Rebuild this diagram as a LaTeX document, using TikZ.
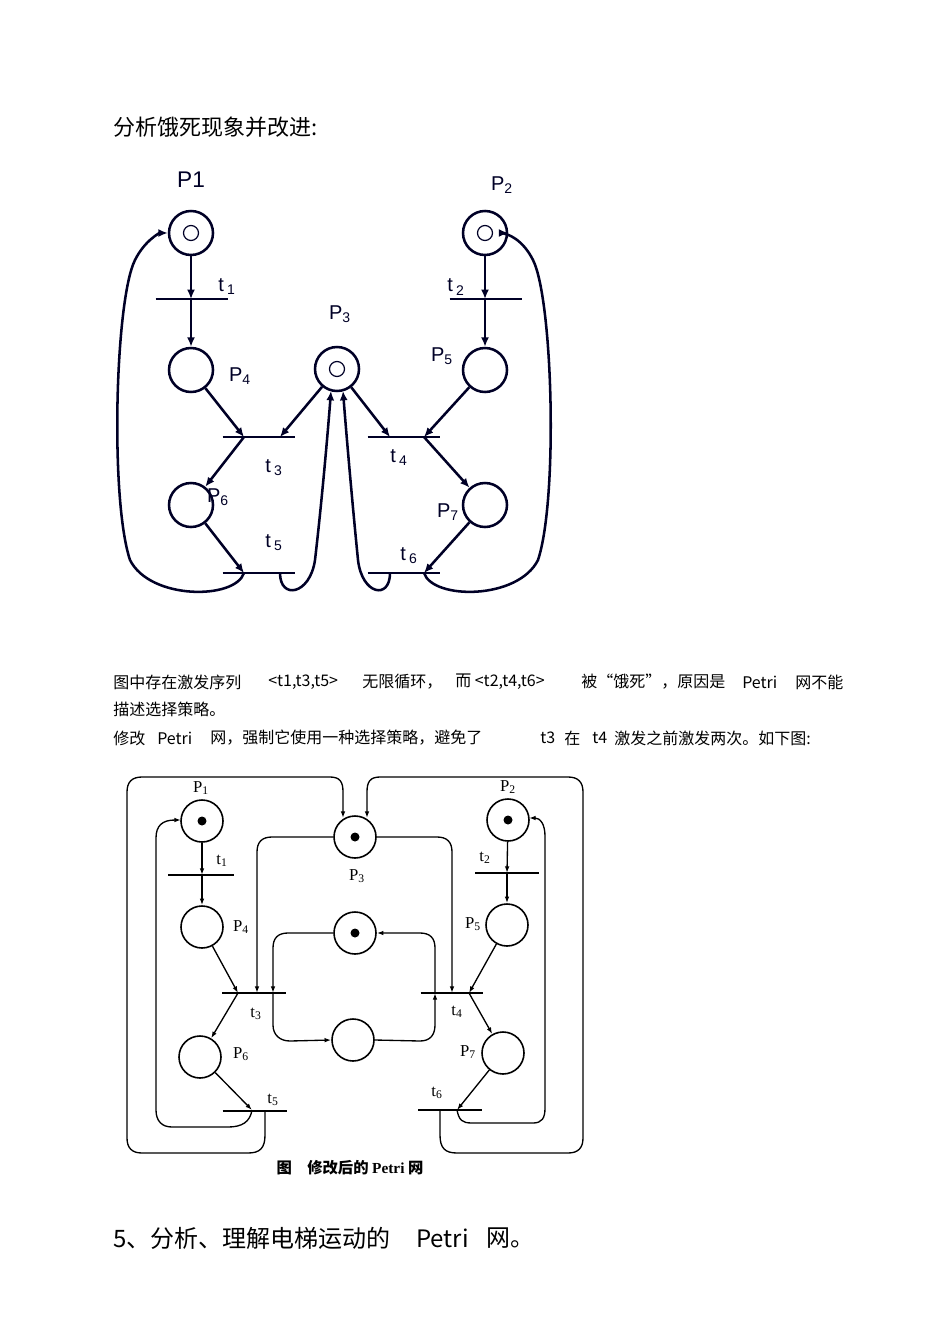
\documentclass[tikz,border=0pt]{standalone}
\usepackage{fontspec}
\setmainfont{Liberation Serif}
\setsansfont{Liberation Sans}
\newfontfamily\cjk{Noto Sans CJK SC}
\usetikzlibrary{arrows.meta}
\begin{document}
\begin{tikzpicture}[x=0.75pt,y=-0.75pt,
  pl/.style={circle,draw,line width=1.9pt,minimum size=44*0.75pt,inner sep=0pt},
  plb/.style={circle,draw,line width=1.2pt,minimum size=42*0.75pt,inner sep=0pt},
  tr/.style={inner sep=0pt,minimum height=0pt,minimum width=72*0.75pt},
  arc1/.style={line width=1.9pt,color=black!85!blue,-{Latex[length=7pt,width=6pt]}},
  ln1/.style={line width=1.9pt,color=black!85!blue},
  arc2/.style={line width=1pt,-{Latex[length=5pt,width=3.5pt]}},
  ln2/.style={line width=1pt},
  lab1/.style={font=\sffamily\fontsize{15}{15}\selectfont,inner sep=0pt},
  lab2/.style={font=\fontsize{12.5}{12}\selectfont,inner sep=0pt},
  txt/.style={font=\cjk\fontsize{12}{12}\selectfont,anchor=west,inner sep=0pt},
  big/.style={font=\cjk\fontsize{16.5}{18}\selectfont,anchor=west,inner sep=0pt},
  bigr/.style={font=\cjk\fontsize{18}{18}\selectfont,anchor=west,inner sep=0pt}]
\useasboundingbox (0,0) rectangle (950,1344);
\node[big] (h1) at (113,127) {分析饿死现象并改进:};
% ---------- diagram 1
\begin{scope}[color=black!85!blue]
\foreach \n/\x/\y in {p1/191/233,p2/485/233,p3/337/369}{
  \node[pl] (\n) at (\x,\y) {};
  \draw[line width=0.9pt] (\x,\y) circle (7.5*0.75pt);}
\foreach \n/\x/\y in {p4/191/370,p5/485/370,p6/191/505,p7/485/505}{
  \node[pl] (\n) at (\x,\y) {};}
\foreach \n/\x/\y in {t1/192/299,t2/486/299,t3/259/437,t4/404/437,t5/259/573,t6/404/573}{
  \node[tr] (\n) at (\x,\y) {}; \draw[ln1] (\n.west)--(\n.east);}
\end{scope}
\coordinate (a1) at (191,299); \coordinate (a2) at (485,299);
\coordinate (a3) at (244,437); \coordinate (a3b) at (280,437);
\coordinate (a4) at (390,437); \coordinate (a4b) at (424,437);
\coordinate (a5) at (244,573); \coordinate (a5b) at (280,573);
\coordinate (a6) at (424,573); \coordinate (a6b) at (390,573);
\draw[arc1] (p1) -- (a1); \draw[arc1] (a1) -- (p4);
\draw[arc1] (p2) -- (a2); \draw[arc1] (a2) -- (p5);
\draw[arc1] (p4) -- (a3); \draw[arc1] (p3) -- (a3b);
\draw[arc1] (p3) -- (a4); \draw[arc1] (p5) -- (a4b);
\draw[arc1] (a3) -- (p6); \draw[arc1] (a4b) -- (p7);
\draw[arc1] (p6) -- (a5); \draw[arc1] (p7) -- (a6);
\draw[arc1] (a5) .. controls (235,600) and (150,600) .. (130,560)
  .. controls (110,500) and (115,300) .. (135,260) .. controls (145,240) and (160,233) .. (p1.west);
\draw[arc1] (a6) .. controls (433,600) and (518,600) .. (538,560)
  .. controls (558,500) and (553,300) .. (533,260) .. controls (523,240) and (508,233) .. (p2.east);
\draw[arc1] (a5b) .. controls (280,600) and (310,595) .. (315,560)
  .. controls (322,500) and (328,430) .. (331,391);
\draw[arc1] (a6b) .. controls (390,600) and (362,595) .. (358,560)
  .. controls (352,500) and (346,430) .. (343,391);
\begin{scope}[color=black!85!blue]
\node[lab1,font=\sffamily\fontsize{17}{17}\selectfont] (l1) at (191,180) {P1};
\node[lab1] (l2) at (502,185) {P\textsubscript{2}};
\node[lab1] (l3) at (340,314) {P\textsubscript{3}};
\node[lab1] (l4) at (240,376) {P\textsubscript{4}};
\node[lab1] (l5) at (442,356) {P\textsubscript{5}};
\node[lab1] (l6) at (218,497) {P\textsubscript{6}};
\node[lab1] (l7) at (448,512) {P\textsubscript{7}};
\node[lab1] (m1) at (227,287) {t\,\textsubscript{1}};
\node[lab1] (m2) at (456,287) {t\,\textsubscript{2}};
\node[lab1] (m3) at (274,468) {t\,\textsubscript{3}};
\node[lab1] (m4) at (399,458) {t\,\textsubscript{4}};
\node[lab1] (m5) at (274,543) {t\,\textsubscript{5}};
\node[lab1] (m6) at (409,556) {t\,\textsubscript{6}};
\end{scope}
% ---------- text
\node[txt] (x1) at (113,682) {图中存在激发序列};
\node[txt] (x2) at (268,682) {<t1,t3,t5>};
\node[txt] (x3) at (362,682) {无限循环，};
\node[txt] (x4) at (455,682) {而 <t2,t4,t6>};
\node[txt] (x5) at (581,682) {被“饿死”，原因是};
\node[txt] (x6) at (742,682) {Petri};
\node[txt] (x7) at (795,682) {网不能};
\node[txt] (x8) at (113,709) {描述选择策略。};
\node[txt] (x9) at (113,738) {修改};
\node[txt] (x10) at (157,738) {Petri};
\node[txt] (x11) at (210,738) {网，强制它使用一种选择策略，避免了};
\node[txt] (x12) at (540,738) {t3};
\node[txt] (x13) at (564,738) {在};
\node[txt] (x14) at (592,738) {t4};
\node[txt] (x15) at (614,738) {激发之前激发两次。如下图:};
% ---------- diagram 2
\foreach \n/\x/\y in {q1/202/821,q2/508/820,q3/355/837,qa/355/933}{
  \node[plb] (\n) at (\x,\y) {}; \fill (\x,\y) circle (4.5*0.75pt);}
\foreach \n/\x/\y in {q4/202/927,q5/507/925,qb/353/1040,q6/200/1057,q7/503/1053}{
  \node[plb] (\n) at (\x,\y) {};}
\foreach \n/\x/\y/\w in {s1/201/875/65,s2/507/873/63,s3/254/993/63,s4/452/993/62,s5/255/1111/64,s6/450/1110/63}{
  \node[tr,minimum width=\w*0.75pt] (\n) at (\x,\y) {}; \draw[line width=1.4pt] (\n.west)--(\n.east);}
\coordinate (b1) at (202,875); \coordinate (b2) at (507,873);
\draw[arc2] (q1) -- (b1); \draw[arc2] (b1) -- (q4);
\draw[arc2] (q2) -- (b2); \draw[arc2] (b2) -- (q5);
\coordinate (b3) at (238,993); \coordinate (b4) at (469,993);
\draw[arc2] (q4) -- (b3); \draw[arc2] (b3) -- (q6);
\draw[arc2] (q5) -- (b4); \draw[arc2] (b4) -- (q7);
\coordinate (b5) at (252,1110); \coordinate (b6) at (457,1110);
\draw[arc2] (q6) -- (b5); \draw[arc2] (q7) -- (b6);
\draw[arc2] (b5) .. controls (250,1122) and (242,1127) .. (228,1127) -- (172,1127)
  .. controls (162,1127) and (156,1121) .. (156,1110) -- (156,838)
  .. controls (156,826) and (162,820) .. (181,820);
\draw[arc2] (b6) .. controls (459,1120) and (462,1123) .. (472,1123) -- (533,1123)
  .. controls (542,1123) and (545,1118) .. (545,1108) -- (545,836)
  .. controls (545,824) and (540,818) .. (529,818);
\coordinate (c5) at (265,1111); \coordinate (c6) at (440,1110);
\draw[arc2] (c5) -- (265,1135) .. controls (265,1148) and (260,1153) .. (248,1153) -- (142,1153)
  .. controls (132,1153) and (127,1148) .. (127,1138) -- (127,792)
  .. controls (127,782) and (132,777) .. (142,777) -- (330,777)
  .. controls (340,777) and (343,782) .. (343,792) -- (343,818);
\draw[arc2] (c6) -- (440,1135) .. controls (440,1148) and (445,1153) .. (457,1153) -- (568,1153)
  .. controls (578,1153) and (583,1148) .. (583,1138) -- (583,792)
  .. controls (583,782) and (578,777) .. (568,777) -- (380,777)
  .. controls (370,777) and (367,782) .. (367,792) -- (367,818);
\coordinate (d3) at (257,993); \coordinate (d4) at (452,993);
\draw[arc2] (q3.west) -- (272,837) .. controls (262,837) and (257,842) .. (257,852) -- (d3);
\draw[arc2] (q3.east) -- (437,837) .. controls (447,837) and (452,842) .. (452,852) -- (d4);
\coordinate (e3) at (273,993); \coordinate (e4) at (435,993);
\draw[arc2] (qa.west) -- (288,933) .. controls (278,933) and (273,938) .. (273,948) -- (e3);
\draw[arc2] (e3) -- (273,1025) .. controls (273,1035) and (280,1041) .. (290,1041) -- (qb.west);
\draw[arc2] (qb.east) -- (420,1041) .. controls (430,1041) and (435,1035) .. (435,1025) -- (e4);
\draw[arc2] (e4) -- (435,948) .. controls (435,938) and (430,933) .. (420,933) -- (qa.east);
\node[lab2] (k1) at (201,788) {P\textsubscript{1}};
\node[lab2] (k2) at (508,787) {P\textsubscript{2}};
\node[lab2] (k3) at (357,876) {P\textsubscript{3}};
\node[lab2] (k4) at (241,927) {P\textsubscript{4}};
\node[lab2] (k5) at (473,924) {P\textsubscript{5}};
\node[lab2] (k6) at (241,1054) {P\textsubscript{6}};
\node[lab2] (k7) at (468,1052) {P\textsubscript{7}};
\node[lab2] (n1) at (222,861) {t\textsubscript{1}};
\node[lab2] (n2) at (485,858) {t\textsubscript{2}};
\node[lab2] (n3) at (256,1014) {t\textsubscript{3}};
\node[lab2] (n4) at (457,1012) {t\textsubscript{4}};
\node[lab2] (n5) at (273,1100) {t\textsubscript{5}};
\node[lab2] (n6) at (437,1093) {t\textsubscript{6}};
\node[lab2,font=\cjk\bfseries\fontsize{11.5}{12}\selectfont] (cap) at (350,1168) {图\quad 修改后的 {\rmfamily Petri} 网};
% ---------- last line
\node[bigr] (h2) at (113,1238) {5、分析、理解电梯运动的};
\node[bigr] (h3) at (416,1238) {Petri};
\node[bigr] (h4) at (486,1238) {网。};
\end{tikzpicture}
\end{document}
